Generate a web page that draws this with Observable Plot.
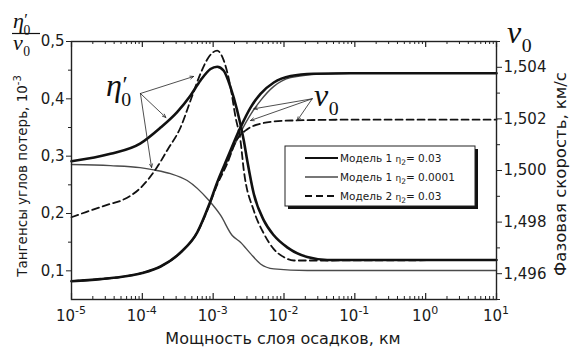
<!DOCTYPE html>
<html><head><meta charset="utf-8">
<script src="https://cdn.jsdelivr.net/npm/d3@7"></script>
<script src="https://cdn.jsdelivr.net/npm/@observablehq/plot@0.6"></script>
<style>
body{margin:0;background:#fff;}
#chart{position:relative;width:571px;height:350px;}
</style></head><body><div id="chart"></div>
<script>
// ---- Data (layer thickness in km) ----
// Model 1, eta2 = 0.03  (thick solid)
const m1aEtaH = [1e-5, 3.55e-5, 9.3e-5, 1.81e-4, 3.1e-4, 4.79e-4, 6.62e-4, 9.16e-4, 1.14e-3, 1.41e-3, 1.76e-3, 2.18e-3, 2.71e-3, 3.03e-3, 3.75e-3, 5.19e-3, 7.18e-3, 1.11e-2, 2.13e-2, 4.07e-2, 10];
const m1aEta  = [0.291, 0.304, 0.322, 0.350, 0.377, 0.406, 0.432, 0.452, 0.456, 0.449, 0.420, 0.380, 0.327, 0.292, 0.234, 0.188, 0.162, 0.141, 0.124, 0.119, 0.119];
const m1aNuH  = [1e-5, 2.56e-5, 4.92e-5, 1.0e-4, 1.81e-4, 3.46e-4, 5.96e-4, 8.67e-4, 1.14e-3, 1.58e-3, 2.43e-3, 3.37e-3, 4.66e-3, 7.18e-3, 1.24e-2, 2.61e-2, 8.69e-2, 10];
const m1aNu   = [1.49571, 1.49579, 1.49587, 1.49603, 1.49628, 1.49682, 1.49760, 1.49864, 1.49954, 1.50047, 1.50167, 1.50244, 1.50297, 1.50341, 1.50366, 1.50375, 1.50377, 1.50377];
// Model 1, eta2 = 0.0001 (thin solid)
const m1bEtaH = [1e-5, 3.55e-5, 9.3e-5, 1.45e-4, 2.5e-4, 4.3e-4, 8.67e-4, 1.27e-3, 1.86e-3, 2.43e-3, 3.37e-3, 4.66e-3, 7.18e-3, 2.13e-2, 10];
const m1bEta  = [0.2855, 0.2835, 0.280, 0.276, 0.2695, 0.2575, 0.223, 0.197, 0.1616, 0.150, 0.130, 0.112, 0.1035, 0.1006, 0.1006];
const m1bNuH  = [1e-5, 2.56e-5, 4.92e-5, 1.0e-4, 1.81e-4, 3.46e-4, 5.96e-4, 8.67e-4, 1.14e-3, 1.58e-3, 2.43e-3, 3.37e-3, 4.66e-3, 7.18e-3, 1.24e-2, 3.27e-2, 8.69e-2, 10];
const m1bNu   = [1.49571, 1.49579, 1.49587, 1.49603, 1.49628, 1.49682, 1.49760, 1.49864, 1.49950, 1.50036, 1.50147, 1.50217, 1.50271, 1.50326, 1.50360, 1.50374, 1.50377, 1.50377];
// Model 2, eta2 = 0.03 (dashed)
const m2EtaH  = [1e-5, 1.6e-5, 3.55e-5, 4.9e-5, 9.3e-5, 1.62e-4, 2.24e-4, 3.46e-4, 4.79e-4, 6.62e-4, 8.67e-4, 1.14e-3, 1.41e-3, 1.76e-3, 2.07e-3, 2.43e-3, 2.71e-3, 3.75e-3, 5.19e-3, 7.18e-3, 9.93e-3, 1.38e-2, 10];
const m2Eta   = [0.1935, 0.2025, 0.2168, 0.222, 0.244, 0.281, 0.310, 0.350, 0.397, 0.444, 0.473, 0.484, 0.467, 0.420, 0.368, 0.327, 0.275, 0.205, 0.165, 0.138, 0.124, 0.118, 0.119];
const m2NuH   = [1e-5, 2.56e-5, 4.92e-5, 1.0e-4, 1.81e-4, 3.46e-4, 5.96e-4, 8.67e-4, 1.14e-3, 1.58e-3, 2.07e-3, 3.03e-3, 4.66e-3, 7.18e-3, 1.38e-2, 8.69e-2, 10];
const m2Nu    = [1.49571, 1.49579, 1.49587, 1.49603, 1.49628, 1.49682, 1.49760, 1.49860, 1.49945, 1.50027, 1.50110, 1.50160, 1.50181, 1.50190, 1.50194, 1.50197, 1.50197];

// Axis ticks
const xDecades   = [-5, -4, -3, -2, -1, 0, 1];
const etaTicks   = [0.1, 0.2, 0.3, 0.4, 0.5];
const etaMinor   = [0.15, 0.25, 0.35, 0.45];
const nuTicks    = [1.496, 1.498, 1.500, 1.502, 1.504];
const nuMinor    = [1.495, 1.497, 1.499, 1.501, 1.503, 1.505];
const legendLabels = [["Модель 1 ", "= 0.03"], ["Модель 1 ", "= 0.0001"], ["Модель 2 ", "= 0.03"]];

// Annotation arrows (thickness km, left-axis units)
const etaArrows = [
  {x1: 9.4e-5, y1: 0.4093, x2: 5.3e-4, y2: 0.4390},
  {x1: 9.4e-5, y1: 0.4093, x2: 2.15e-4, y2: 0.3674},
  {x1: 9.4e-5, y1: 0.4093, x2: 1.35e-4, y2: 0.2802}
];
const nuArrows = [
  {x1: 2.5e-2, y1: 0.4001, x2: 3.75e-3, y2: 0.3826},
  {x1: 2.5e-2, y1: 0.4001, x2: 3.37e-3, y2: 0.3622},
  {x1: 2.5e-2, y1: 0.4001, x2: 1.54e-2, y2: 0.3622}
];

const FONT = "'DejaVu Sans', 'Liberation Sans', Arial, sans-serif";
const SERIF = "'Liberation Serif', 'DejaVu Serif', serif";
const nuToLeft = d3.scaleLinear([1.495, 1.505], [0.05, 0.5]);

const rows = (H, V, isNu) => H.map((h, i) => ({h, v: isNu ? nuToLeft(V[i]) : V[i]}));
const series = [
  {data: rows(m1bEtaH, m1bEta), stroke: "#4a4a4a", w: 1.4, dash: null},
  {data: rows(m1bNuH, m1bNu, true), stroke: "#4a4a4a", w: 1.4, dash: null},
  {data: rows(m2EtaH, m2Eta), stroke: "#111", w: 1.8, dash: "7,4"},
  {data: rows(m2NuH, m2Nu, true), stroke: "#111", w: 1.8, dash: "7,4"},
  {data: rows(m1aEtaH, m1aEta), stroke: "#111", w: 2.6, dash: null},
  {data: rows(m1aNuH, m1aNu, true), stroke: "#111", w: 2.6, dash: null}
];

const xMajor = xDecades.map(e => 10 ** e);
const xMinor = [];
for (const e of xDecades.slice(0, -1)) for (let k = 2; k <= 9; k++) xMinor.push(k * 10 ** e);

const plotH = 350 - 41 - 51;
const comma = d => String(d).replace(".", ",");

const chart = Plot.plot({
  width: 571, height: 350,
  marginLeft: 71, marginRight: 75, marginTop: 41, marginBottom: 51,
  style: {fontFamily: FONT, fontSize: "15px", color: "#1a1a1a", background: "#fff"},
  x: {type: "log", domain: [1e-5, 10]},
  y: {domain: [0.05, 0.5]},
  marks: [
    Plot.ruleX(xMajor, {insetTop: plotH - 6, stroke: "#222", strokeWidth: 1.2}),
    Plot.ruleX(xMinor, {insetTop: plotH - 3, stroke: "#222", strokeWidth: 1}),
    Plot.ruleX(xMajor, {insetBottom: plotH - 6, stroke: "#222", strokeWidth: 1.2}),
    Plot.ruleX(xMinor, {insetBottom: plotH - 3, stroke: "#222", strokeWidth: 1}),
    Plot.axisY(etaTicks, {anchor: "left", tickSize: 5, tickPadding: 2, tickFormat: d => comma(d.toFixed(1)), label: null, stroke: "#222", fontSize: 15}),
    Plot.axisY(etaMinor, {anchor: "left", tickSize: 3, tickFormat: () => "", label: null, stroke: "#222"}),
    Plot.axisY(nuTicks.map(nuToLeft), {anchor: "right", tickSize: 5, tickPadding: 2, tickFormat: d => comma(nuToLeft.invert(d).toFixed(3)), label: null, stroke: "#222", fontSize: 15}),
    Plot.axisY(nuMinor.map(nuToLeft), {anchor: "right", tickSize: 3, tickFormat: () => "", label: null, stroke: "#222"}),
    Plot.axisX([], {label: null}),
    ...series.map(s => Plot.line(s.data, {x: "h", y: "v", stroke: s.stroke, strokeWidth: s.w, strokeDasharray: s.dash, curve: "monotone-x"})),
    Plot.arrow(etaArrows, {x1: "x1", y1: "y1", x2: "x2", y2: "y2", stroke: "#222", strokeWidth: 0.8, headLength: 7, headAngle: 45}),
    Plot.arrow(nuArrows, {x1: "x1", y1: "y1", x2: "x2", y2: "y2", stroke: "#222", strokeWidth: 0.8, headLength: 7, headAngle: 45}),
    Plot.frame({stroke: "#222", strokeWidth: 1.4})
  ]
});
document.getElementById("chart").appendChild(chart);

const svg = d3.select(chart);
const sx = chart.scale("x");

// x tick labels with superscripts
xDecades.forEach(e => {
  const t = svg.append("text").attr("x", sx.apply(10 ** e)).attr("y", 321)
    .attr("text-anchor", "middle").attr("font-family", FONT).attr("font-size", 15).attr("fill", "#1a1a1a");
  t.append("tspan").text("10");
  t.append("tspan").attr("dy", -7).attr("font-size", 11).text(e < 0 ? "-" + (-e) : String(e));
});

// axis titles
const yl = svg.append("text").attr("transform", "translate(27,176) rotate(-90)").attr("text-anchor", "middle")
  .attr("font-family", FONT).attr("font-size", 13.5).attr("fill", "#1a1a1a");
yl.append("tspan").text("Тангенсы углов потерь, 10");
yl.append("tspan").attr("dy", -6).attr("font-size", 10).text("-3");

svg.append("text").attr("transform", "translate(566,174) rotate(-90)").attr("text-anchor", "middle")
  .attr("font-family", FONT).attr("font-size", 16.5).attr("fill", "#1a1a1a").text("Фазовая скорость, км/с");

svg.append("text").attr("x", 283).attr("y", 344).attr("text-anchor", "middle")
  .attr("font-family", FONT).attr("font-size", 16).attr("fill", "#1a1a1a").text("Мощность слоя осадков, км");

// symbol helper
function greek(x, y, sym, size, prime) {
  const t = svg.append("text").attr("x", x).attr("y", y).attr("text-anchor", "start")
    .attr("font-family", SERIF).attr("font-style", "italic").attr("font-size", size).attr("fill", "#111");
  t.append("tspan").text(sym);
  if (prime) t.append("tspan").attr("font-style", "normal").attr("dy", -size * 0.12).attr("dx", size * 0.02).attr("font-size", size * 0.75).text("′");
  t.append("tspan").attr("font-style", "normal")
    .attr("dy", prime ? size * 0.42 : size * 0.28).attr("dx", prime ? -size * 0.2 : size * 0.02)
    .attr("font-size", size * 0.62).text("0");
}
// top-left fraction
greek(13, 28, "η", 22, true);
svg.append("line").attr("x1", 12).attr("x2", 40).attr("y1", 33.5).attr("y2", 33.5).attr("stroke", "#111").attr("stroke-width", 1.2);
greek(13, 50, "ν", 22, false);
// top-right nu0
greek(507, 43, "ν", 32, false);
// annotations
greek(106, 96, "η", 32, true);
greek(314, 106, "ν", 32, false);

// legend
const lg = svg.append("g").attr("font-family", FONT).attr("font-size", 10.5).attr("fill", "#1a1a1a").attr("text-anchor", "start");
lg.append("rect").attr("x", 288).attr("y", 149).attr("width", 190).attr("height", 60).attr("fill", "#111");
lg.append("rect").attr("x", 285).attr("y", 146).attr("width", 190).attr("height", 60).attr("fill", "#fff").attr("stroke", "#222").attr("stroke-width", 1);
const legStyles = [series[4], series[0], series[2]];
legendLabels.forEach((lab, i) => {
  const y = 158 + i * 19;
  const s = legStyles[i];
  lg.append("line").attr("x1", 305).attr("x2", 338).attr("y1", y).attr("y2", y)
    .attr("stroke", s.stroke).attr("stroke-width", Math.min(s.w, 2)).attr("stroke-dasharray", s.dash);
  const t = lg.append("text").attr("x", 340).attr("y", y + 4);
  t.append("tspan").text(lab[0]);
  t.append("tspan").attr("font-size", 9).text("η");
  t.append("tspan").attr("font-size", 7.5).attr("dy", 3).text("2");
  t.append("tspan").attr("dy", -3).text(lab[1]);
});
</script></body></html>
